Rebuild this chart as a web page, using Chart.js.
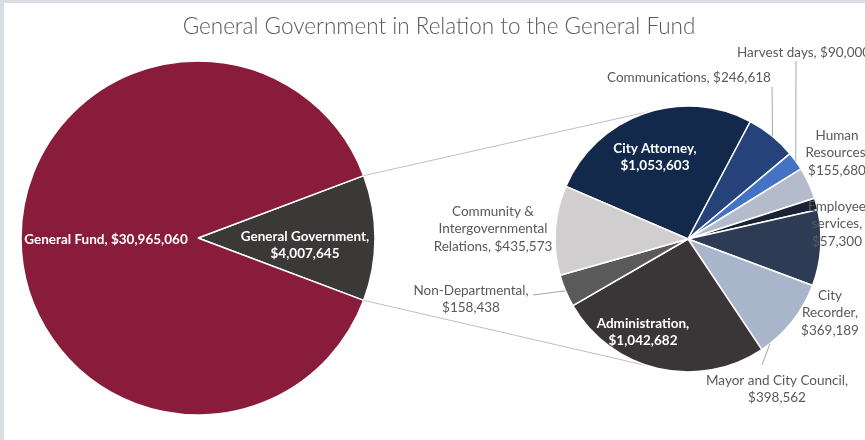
<!DOCTYPE html>
<html>
<head>
<meta charset="utf-8">
<title>General Government in Relation to the General Fund</title>
<script src="https://cdn.jsdelivr.net/npm/chart.js@4.4.1/dist/chart.umd.min.js"></script>
<style>
  html, body { margin: 0; padding: 0; background: #ffffff; }
  #wrap { position: relative; width: 865px; height: 440px; overflow: hidden; background: #d9dee5; }
  #sheet { position: absolute; left: 4px; top: 3px; right: 0; bottom: 0; background: #ffffff; }
  canvas { position: absolute; left: 0; top: 0; }
</style>
</head>
<body>
<div id="wrap">
  <div id="sheet"></div>
  <canvas id="fundChart" width="865" height="440"></canvas>
  <canvas id="govChart" width="865" height="440"></canvas>
</div>
<script>
// ---- data ----
const chartTitle = 'General Government in Relation to the General Fund';

const fundLabels = ['General Government', 'General Fund'];
const fundValues = [4007645, 30965060];

const govLabels = [
  'City Attorney', 'Communications', 'Harvest days', 'Human Resources',
  'Employee services', 'City Recorder', 'Mayor and City Council',
  'Administration', 'Non-Departmental', 'Community & Intergovernmental Relations'
];
const govValues = [1053603, 246618, 90000, 155680, 57300, 369189, 398562, 1042682, 158438, 435573];

// ---- styles ----
const fundColors = ['#3b3838', '#8a1c3b'];
const govColors = ['#13294b', '#25437a', '#4472c4', '#b4bccb', '#1a2233',
                   '#2e3b54', '#a9b5ca', '#3a3536', '#5a5a5a', '#d0cece'];
const FONT = 'Lato, "Open Sans", "Liberation Sans", sans-serif';
const GREY_TEXT = '#595959';

// label placement: words per line, anchor, alignment, colour
const fundLabelLayout = {
  'General Government': { lines: [2, 1], x: 305, y: 245, color: '#ffffff', bold: true },
  'General Fund':       { lines: [4],    x: 106, y: 240, color: '#ffffff', bold: true }
};
const govLabelLayout = {
  'City Attorney':      { lines: [2, 1],    x: 655, y: 157, color: '#ffffff', bold: true },
  'Communications':     { lines: [2],       x: 689, y: 78,  color: GREY_TEXT,
                          leader: { from: [772, 87], frac: 0.52 } },
  'Harvest days':       { lines: [3],       x: 737, y: 53,  color: GREY_TEXT, align: 'left',
                          leader: { from: [796, 61], frac: 0.5 } },
  'Human Resources':    { lines: [1, 1, 1], x: 837, y: 153, color: GREY_TEXT },
  'Employee services':  { lines: [1, 1, 1], x: 837, y: 224, color: GREY_TEXT },
  'City Recorder':      { lines: [1, 1, 1], x: 830, y: 313, color: GREY_TEXT },
  'Mayor and City Council': { lines: [4, 1], x: 777, y: 389, color: GREY_TEXT,
                          leader: { from: [762, 365], frac: 0.88 } },
  'Administration':     { lines: [1, 1],    x: 643, y: 332, color: '#ffffff', bold: true },
  'Non-Departmental':   { lines: [1, 1],    x: 471, y: 299, color: GREY_TEXT,
                          leader: { from: [533, 295], frac: 0.5 } },
  'Community & Intergovernmental Relations':
                        { lines: [2, 1, 2], x: 493, y: 229, color: GREY_TEXT }
};

const money = v => '$' + v.toLocaleString('en-US');

function labelLines(name, value, counts) {
  const words = (name + ', ' + money(value)).split(' ');
  const out = [];
  let i = 0;
  counts.forEach(n => { out.push(words.slice(i, i + n).join(' ')); i += n; });
  return out;
}

// draws "Category, $value" labels (and optional leader lines) for one pie
function makeLabelPlugin(id, layout, fontSize, lineHeight) {
  return {
    id: id,
    afterDatasetsDraw(chart) {
      const ctx = chart.ctx;
      const meta = chart.getDatasetMeta(0);
      const labels = chart.data.labels;
      const values = chart.data.datasets[0].data;
      ctx.save();
      labels.forEach((name, i) => {
        const spec = layout[name];
        if (!spec) return;
        const arc = meta.data[i];
        if (spec.leader) {
          const p = arc.getProps(['x', 'y', 'startAngle', 'endAngle', 'outerRadius'], true);
          const a = p.startAngle + spec.leader.frac * (p.endAngle - p.startAngle);
          ctx.strokeStyle = '#a6a6a6';
          ctx.lineWidth = 1;
          ctx.beginPath();
          ctx.moveTo(spec.leader.from[0], spec.leader.from[1]);
          ctx.lineTo(p.x + Math.cos(a) * p.outerRadius, p.y + Math.sin(a) * p.outerRadius);
          ctx.stroke();
        }
        const lines = labelLines(name, values[i], spec.lines);
        ctx.font = (spec.bold ? 'bold ' : '') + fontSize + 'px ' + FONT;
        ctx.fillStyle = spec.color;
        ctx.textAlign = spec.align || 'center';
        ctx.textBaseline = 'middle';
        const top = spec.y - (lines.length - 1) * lineHeight / 2;
        lines.forEach((t, k) => ctx.fillText(t, spec.x, top + k * lineHeight));
      });
      ctx.restore();
    }
  };
}

const titlePlugin = {
  id: 'sheetTitle',
  afterDraw(chart) {
    const ctx = chart.ctx;
    ctx.save();
    ctx.font = '300 22.5px ' + FONT;
    ctx.fillStyle = GREY_TEXT;
    ctx.textAlign = 'center';
    ctx.textBaseline = 'middle';
    ctx.fillText(chartTitle, 439, 27);
    ctx.restore();
  }
};

const fundTotal = fundValues.reduce((a, b) => a + b, 0);
const govShareDeg = 360 * fundValues[0] / fundTotal;

const fundChart = new Chart(document.getElementById('fundChart'), {
  type: 'pie',
  data: {
    labels: fundLabels,
    datasets: [{
      data: fundValues,
      backgroundColor: fundColors,
      borderColor: '#ffffff',
      borderWidth: 1.5,
      hoverOffset: 0
    }]
  },
  options: {
    responsive: false,
    animation: false,
    rotation: 90 - govShareDeg / 2,   // General Government slice faces the breakout pie
    radius: 177,
    layout: { padding: { left: 21, right: 490, top: 61, bottom: 25 } },
    plugins: { legend: { display: false }, tooltip: { enabled: false }, title: { display: false } },
    events: []
  },
  plugins: [titlePlugin, makeLabelPlugin('fundLabels', fundLabelLayout, 13.5, 17.5)]
});

// connector lines from the General Government slice to the breakout pie
const connectorPlugin = {
  id: 'connectors',
  beforeDatasetsDraw(chart) {
    const src = fundChart.getDatasetMeta(0).data[0]
      .getProps(['x', 'y', 'startAngle', 'endAngle', 'outerRadius'], true);
    const dst = chart.getDatasetMeta(0).data[0]
      .getProps(['x', 'y', 'outerRadius'], true);
    const ends = [-105 * Math.PI / 180, 107 * Math.PI / 180];
    const starts = [src.startAngle, src.endAngle];
    const ctx = chart.ctx;
    ctx.save();
    ctx.strokeStyle = '#bfbfbf';
    ctx.lineWidth = 1;
    for (let k = 0; k < 2; k++) {
      ctx.beginPath();
      ctx.moveTo(src.x + Math.cos(starts[k]) * src.outerRadius, src.y + Math.sin(starts[k]) * src.outerRadius);
      ctx.lineTo(dst.x + Math.cos(ends[k]) * dst.outerRadius, dst.y + Math.sin(ends[k]) * dst.outerRadius);
      ctx.stroke();
    }
    ctx.restore();
  }
};

const govChart = new Chart(document.getElementById('govChart'), {
  type: 'pie',
  data: {
    labels: govLabels,
    datasets: [{
      data: govValues,
      backgroundColor: govColors,
      borderColor: '#ffffff',
      borderWidth: 1.5,
      hoverOffset: 0
    }]
  },
  options: {
    responsive: false,
    animation: false,
    rotation: -66.7,
    radius: 133,
    layout: { padding: { left: 555, right: 44, top: 106, bottom: 68 } },
    plugins: { legend: { display: false }, tooltip: { enabled: false }, title: { display: false } },
    events: []
  },
  plugins: [connectorPlugin, makeLabelPlugin('govLabels', govLabelLayout, 13.5, 17.5)]
});
</script>
</body>
</html>
